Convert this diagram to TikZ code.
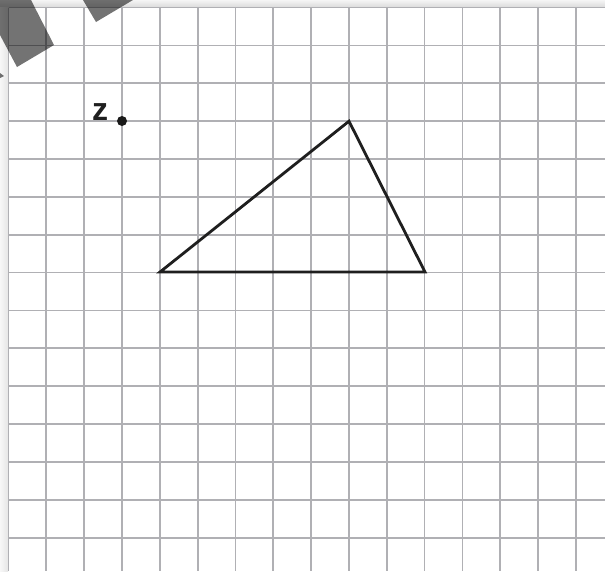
\documentclass[tikz,border=0pt]{standalone}
\usepackage{fontspec}
\setmainfont{Liberation Sans}
\begin{document}
\begin{tikzpicture}[x=1pt,y=-1pt,
  gridline/.style={draw=gridgray,line width=1.7pt},
  tri/.style={draw=black!88,line width=2.8pt,line join=miter},
  tape/.style={fill=black,fill opacity=0.55,draw=none},
  ptdot/.style={circle,fill=black!90,inner sep=0pt,minimum size=10pt},
  lbl/.style={font=\fontsize{32}{32}\selectfont\bfseries,text=black!88,inner sep=0pt}]
\definecolor{gridgray}{RGB}{176,176,180}
\useasboundingbox (0,0) rectangle (605,571);
\fill[white] (0,0) rectangle (605,571);
% page edges
\shade[top color=white!96!black,bottom color=white!86!black] (0,0) rectangle (605,7);
\shade[left color=white!97!black,right color=white!90!black] (0,7) rectangle (8,571);
% grid
\foreach \k in {0,...,15}{
  \draw[gridline] ({8.5+37.83*\k},7.5) -- ({8.5+37.83*\k},571);
}
\foreach \k in {0,...,14}{
  \draw[gridline] (8.5,{7.5+37.87*\k}) -- (605,{7.5+37.87*\k});
}
% tape pieces
\fill[tape] (0,0) -- (31,0) -- (54,45) -- (17,67) -- (0,35) -- cycle;
\fill[tape] (0,73) -- (4,76) -- (0,78) -- cycle;
\fill[tape] (83,0) -- (133,0) -- (96,22) -- cycle;
% triangle
\coordinate (A) at (160,272);
\coordinate (B) at (349,121.2);
\coordinate (C) at (425,272);
\draw[tri] (A) -- (B) -- (C) -- cycle;
% point z
\node[ptdot] (Z) at (122,121) {};
\node[lbl,anchor=base] (zl) at (100,120) {z};
\end{tikzpicture}
\end{document}
